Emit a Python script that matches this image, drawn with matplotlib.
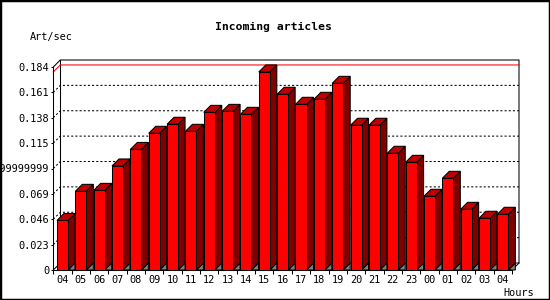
import matplotlib
matplotlib.use("Agg")
import matplotlib.pyplot as plt
from matplotlib.patches import Polygon, Rectangle

# hourly incoming articles (Art/sec)
hours = ["04", "05", "06", "07", "08", "09", "10", "11", "12", "13", "14", "15", "16",
         "17", "18", "19", "20", "21", "22", "23", "00", "01", "02", "03", "04"]
rates = [0.0449, 0.0713, 0.0722, 0.0943, 0.1093, 0.1239, 0.1321, 0.1257, 0.1429, 0.1438,
         0.1411, 0.1795, 0.1593, 0.1502, 0.1547, 0.1692, 0.1312, 0.1312, 0.1058, 0.0976,
         0.0668, 0.0831, 0.0550, 0.0469, 0.0505]
ytick_vals = [0, 0.023, 0.046, 0.069, 0.092, 0.115, 0.138, 0.161, 0.184]
ytick_labels = ["0", "0.023", "0.046", "0.069", "0.09199999999999999",
                "0.115", "0.138", "0.161", "0.184"]

FONT = "DejaVu Sans Mono"
W, H = 550, 300
fig = plt.figure(figsize=(W / 100, H / 100), dpi=100)
fig.patch.set_facecolor("white")

# plot frame in pixels -> figure fractions
x0, y0, pw, ph = 53.3, 270, 458.7, 203
ax = fig.add_axes([x0 / W, (H - y0) / H, pw / W, ph / H])
n = len(rates)
ymax = ytick_vals[-1]
ax.set_xlim(0, n)
ax.set_ylim(0, ymax)
ax.set_facecolor("none")
for s in ("top", "right"):
    ax.spines[s].set_visible(False)
for s in ("left", "bottom"):
    ax.spines[s].set_linewidth(0.75)

# 3-D depth (7 px right, 7 px up) in data units
dx = 7 / (pw / n)
dy = 7 / ph * ymax
lw = 0.75
kw = dict(clip_on=False, lw=lw)

# back frame
ax.plot([0, dx, n + dx, n + dx, n], [ymax, ymax + dy, ymax + dy, dy, 0], color="black", zorder=2, **kw)
ax.plot([dx, dx], [dy, ymax + dy], color="black", zorder=2, **kw)
ax.plot([0, dx, n + dx], [0, dy, dy], color="black", zorder=2, **kw)

# dotted grid on the back wall
for t in ytick_vals[1:-1]:
    ax.plot([0, dx, n + dx], [t, t + dy, t + dy], color="black", linestyle=(0, (2, 2)),
            zorder=2, **kw)

# max line
m = max(rates)
ax.plot([0, dx, n + dx], [m, m + dy, m + dy], color="#ff0000", zorder=2.5, **kw)

# 3-D bars
for i, v in enumerate(rates):
    l, r = i + 0.2, i + 0.8
    ax.add_patch(Polygon([(r, 0), (r + dx, dy), (r + dx, 0)], closed=True,
                         fc="#808080", ec="black", zorder=3, **kw))
    ax.add_patch(Polygon([(r, 0), (r + dx, dy), (r + dx, v + dy), (r, v)], closed=True,
                         fc="#800000", ec="black", zorder=3, **kw))
    ax.add_patch(Polygon([(l, v), (l + dx, v + dy), (r + dx, v + dy), (r, v)], closed=True,
                         fc="#c00000", ec="black", zorder=3, **kw))
    ax.add_patch(Rectangle((l, 0), 0.6, v, fc="#ff0000", ec="black", zorder=4, **kw))

# ticks
ax.set_yticks(ytick_vals)
ax.set_yticklabels(ytick_labels, fontfamily=FONT, fontsize=7.4)
ax.tick_params(axis="y", length=1.5, width=lw, pad=1.5)
ax.set_xticks(range(n + 1))
ax.set_xticklabels([])
ax.tick_params(axis="x", which="major", length=3, width=lw)
ax.set_xticks([i + 0.5 for i in range(n)], minor=True)
ax.set_xticklabels(hours, minor=True, fontfamily=FONT, fontsize=7.4)
ax.tick_params(axis="x", which="minor", length=0, pad=3.5)

# texts
fig.text(273.5 / W, 1 - 27 / H, "Incoming articles", ha="center", va="center",
         fontfamily=FONT, fontsize=8.2, fontweight="bold")
fig.text(30 / W, 1 - 37 / H, "Art/sec", ha="left", va="center", fontfamily=FONT, fontsize=7.4)
fig.text(534 / W, 1 - 293 / H, "Hours", ha="right", va="center", fontfamily=FONT, fontsize=7.4)

# outer border
fig.add_artist(Rectangle((0, 0), 1, 1, transform=fig.transFigure, fill=False,
                         ec="black", lw=2.5, clip_on=False))

fig.savefig("out.png", dpi=100)
